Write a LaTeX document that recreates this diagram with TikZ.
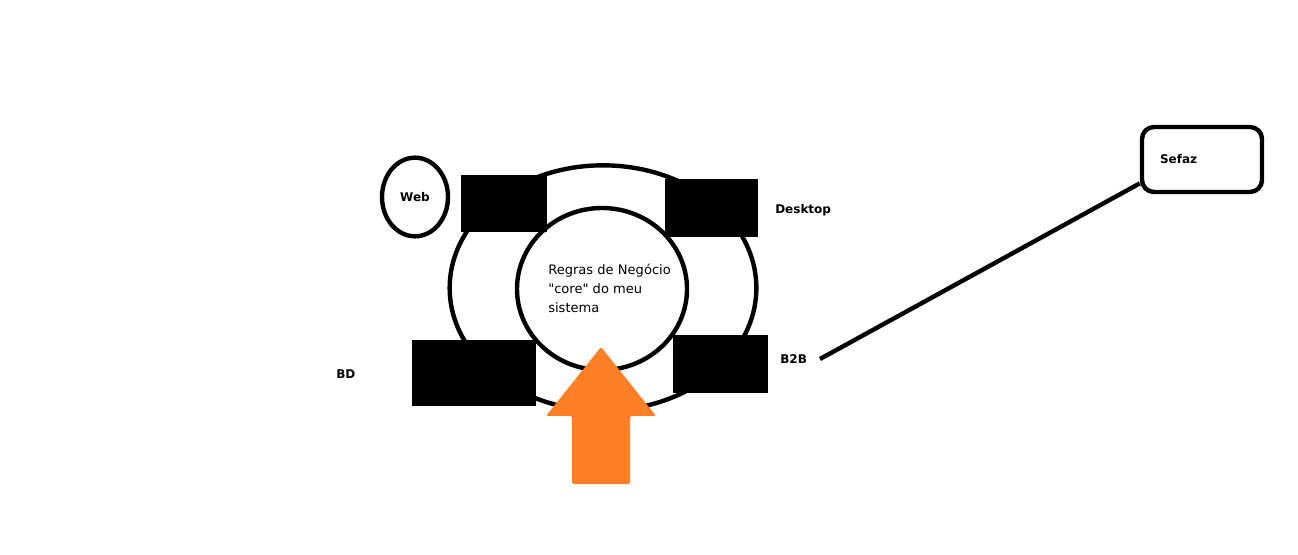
\documentclass[tikz,border=0pt]{standalone}
\usepackage{fontspec}
\setmainfont{DejaVu Sans}
\newfontfamily\corefont{DejaVu Sans}
\usetikzlibrary{shapes.geometric,positioning}
\definecolor{Ink}{HTML}{000000}
\definecolor{Orange}{HTML}{FF7F27}
\tikzset{
 every node/.style={text=Ink,inner sep=0pt},
 ring/.style={ellipse,draw=Ink,line width=3.3pt,fill=white},
 port/.style={rectangle,fill=Ink},
 tag/.style={font=\fontsize{9}{10}\selectfont\bfseries},
 body/.style={font=\corefont\fontsize{9.8}{14.25}\selectfont,align=left},
 ext/.style={draw=Ink,line width=3.3pt,rounded corners=9pt,fill=white},
 link/.style={draw=Ink,line width=3.3pt},
 }
\begin{document}
\begin{tikzpicture}[x=.75pt,y=-.75pt]
 \useasboundingbox[fill=white](0,0)rectangle(1298,555);
 \node[ring,minimum width=230pt,minimum height=184pt](outer)at(603,288){};
 \node[ring,minimum width=127.5pt,minimum height=121.5pt](core)at(602,289){};
 \node[body,anchor=west](coretext)at(548,288){Regras de Negócio\\"core" do meu\\sistema};
 \node[port,minimum width=64.5pt,minimum height=42.75pt](portweb)at(504,203.5){};
 \node[port,minimum width=69.75pt,minimum height=43.5pt](portdesk)at(711.5,208){};
 \node[port,minimum width=93pt,minimum height=49.5pt](portbd)at(474,373){};
 \node[port,minimum width=71.25pt,minimum height=43.5pt](portbb)at(720.5,364){};
 \fill[Orange,rounded corners=1pt](572,484)--(572,416)--(546,416)--(601,347)--(656,416)--(630,416)--(630,484)--cycle;
 \node[ring,tag,minimum width=49.5pt,minimum height=59pt](web)at(415,197){Web};
 \node[tag,anchor=west](desktop)at(775,210){Desktop};
 \node[tag,anchor=west](bd)at(336,374){BD};
 \node[tag,anchor=west](bb)at(780,359){B2B};
 \node[ext,tag,align=left,minimum width=90pt,minimum height=48.75pt,text width=63pt,inner xsep=13.5pt](sefaz)at(1202,159.5){Sefaz};
 \coordinate(tail)at(820,359);
 \draw[link](sefaz.-159)--(tail);
\end{tikzpicture}
\end{document}
